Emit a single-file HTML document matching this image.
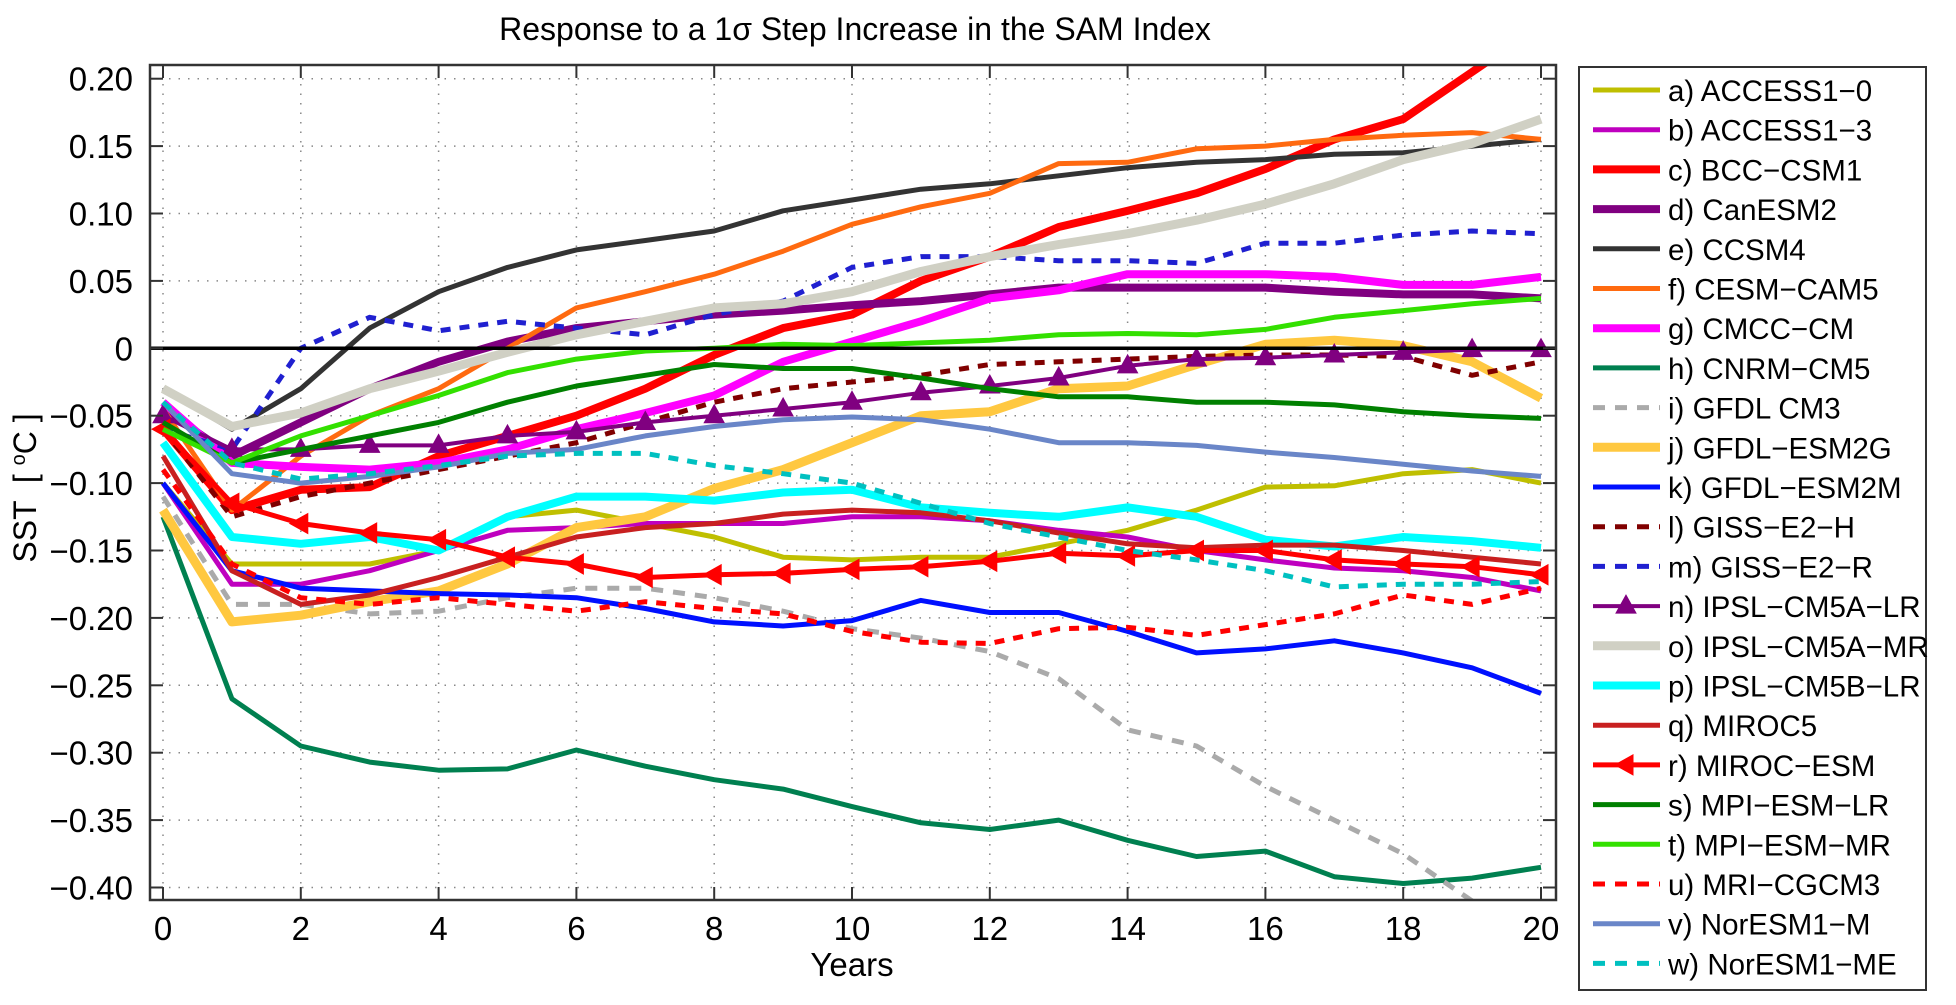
<!DOCTYPE html>
<html><head><meta charset="utf-8"><style>
html,body{margin:0;padding:0;background:#fff;}
svg text{font-family:"Liberation Sans",Arial,sans-serif;fill:#000;}
</style></head><body>
<svg id="s" width="1956" height="1000" xmlns="http://www.w3.org/2000/svg">
<defs><clipPath id="cp"><rect x="150" y="65" width="1406" height="835"/></clipPath></defs>
<rect width="1956" height="1000" fill="#fff"/>
<g id="grid"></g>
<g id="lines" clip-path="url(#cp)"></g>
<g id="axes"></g>
<g id="leg"></g>
<text x="855" y="40" font-size="32" text-anchor="middle">Response to a 1σ Step Increase in the SAM Index</text>
<text x="852" y="976" font-size="33" text-anchor="middle">Years</text>
<text transform="translate(36,488) rotate(-90)" font-size="32" text-anchor="middle" xml:space="preserve">SST  [ <tspan font-size="20" dy="-11">o</tspan><tspan dy="11">C ]</tspan></text>
</svg>
<script>
const NS="http://www.w3.org/2000/svg";
const L=150,R=1556,T=65,B=900;
const X=v=>163+v*68.9, Y=v=>348.3+(-v)*1348;
function el(p,t,a,txt){const e=document.createElementNS(NS,t);for(const k in a)e.setAttribute(k,a[k]);if(txt!==undefined)e.textContent=txt;p.appendChild(e);return e;}
const g=document.getElementById('grid'),ax=document.getElementById('axes'),ln=document.getElementById('lines'),lg=document.getElementById('leg');
for(let i=0;i<=20;i+=2){const x=X(i);el(g,'line',{x1:x,x2:x,y1:T,y2:B,stroke:'#888','stroke-width':1.5,'stroke-dasharray':'1.5 8'});
el(ax,'line',{x1:x,x2:x,y1:B,y2:B-13,stroke:'#333','stroke-width':2});el(ax,'line',{x1:x,x2:x,y1:T,y2:T+13,stroke:'#333','stroke-width':2});
el(ax,'text',{x:x,y:940,'font-size':33,'text-anchor':'middle'},String(i));}
for(let k=-8;k<=4;k++){const v=k*0.05,y=Y(v);el(g,'line',{x1:L,x2:R,y1:y,y2:y,stroke:'#888','stroke-width':1.5,'stroke-dasharray':'1.5 8'});
el(ax,'line',{x1:L,x2:L+13,y1:y,y2:y,stroke:'#333','stroke-width':2});el(ax,'line',{x1:R,x2:R-13,y1:y,y2:y,stroke:'#333','stroke-width':2});
let s=k==0?'0':(v<0?'\u2212':'')+Math.abs(v).toFixed(2);el(ax,'text',{x:133,y:y+12,'font-size':33,'text-anchor':'end'},s);}
el(ax,'rect',{x:L,y:T,width:R-L,height:B-T,fill:'none',stroke:'#333','stroke-width':2.5});
const S=[
['a) ACCESS1\u22120','#bfbf00',5,'',0,[-0.10,-0.16,-0.16,-0.16,-0.15,-0.125,-0.12,-0.13,-0.14,-0.155,-0.157,-0.155,-0.155,-0.145,-0.135,-0.12,-0.103,-0.102,-0.093,-0.09,-0.10]],
['b) ACCESS1\u22123','#bf00bf',5,'',0,[-0.10,-0.175,-0.175,-0.165,-0.15,-0.135,-0.133,-0.13,-0.13,-0.13,-0.125,-0.125,-0.128,-0.135,-0.14,-0.15,-0.157,-0.163,-0.165,-0.17,-0.18]],
['c) BCC\u2212CSM1','#ff0000',8,'',0,[-0.06,-0.12,-0.105,-0.103,-0.08,-0.065,-0.05,-0.03,-0.005,0.015,0.025,0.05,0.068,0.09,0.102,0.115,0.133,0.155,0.17,0.205,0.24]],
['d) CanESM2','#800080',8,'',0,[-0.045,-0.08,-0.055,-0.03,-0.01,0.005,0.015,0.02,0.025,0.028,0.032,0.035,0.04,0.045,0.045,0.045,0.045,0.042,0.04,0.04,0.037]],
['e) CCSM4','#333333',5,'',0,[-0.03,-0.06,-0.03,0.015,0.042,0.06,0.073,0.08,0.087,0.102,0.11,0.118,0.122,0.128,0.134,0.138,0.14,0.144,0.145,0.15,0.155]],
['f) CESM\u2212CAM5','#ff6a10',5,'',0,[-0.045,-0.12,-0.08,-0.05,-0.03,0.0,0.03,0.042,0.055,0.072,0.092,0.105,0.115,0.137,0.138,0.148,0.15,0.155,0.158,0.16,0.155]],
['g) CMCC\u2212CM','#ff00ff',8,'',0,[-0.04,-0.085,-0.088,-0.09,-0.085,-0.075,-0.06,-0.048,-0.035,-0.01,0.005,0.02,0.037,0.043,0.055,0.055,0.055,0.053,0.047,0.047,0.053]],
['h) CNRM\u2212CM5','#008050',5,'',0,[-0.125,-0.26,-0.295,-0.307,-0.313,-0.312,-0.298,-0.31,-0.32,-0.327,-0.34,-0.352,-0.357,-0.35,-0.365,-0.377,-0.373,-0.392,-0.397,-0.393,-0.385]],
['i) GFDL CM3','#aaaaaa',5,'12 10',0,[-0.11,-0.19,-0.19,-0.197,-0.195,-0.185,-0.178,-0.178,-0.185,-0.195,-0.208,-0.215,-0.225,-0.245,-0.283,-0.295,-0.325,-0.35,-0.375,-0.41,-0.44]],
['j) GFDL\u2212ESM2G','#ffc840',9,'',0,[-0.12,-0.203,-0.198,-0.188,-0.18,-0.16,-0.133,-0.125,-0.104,-0.09,-0.07,-0.05,-0.047,-0.03,-0.028,-0.012,0.003,0.006,0.002,-0.01,-0.037]],
['k) GFDL\u2212ESM2M','#0010ff',5,'',0,[-0.10,-0.165,-0.178,-0.18,-0.182,-0.183,-0.185,-0.193,-0.203,-0.206,-0.202,-0.187,-0.196,-0.196,-0.21,-0.226,-0.223,-0.217,-0.226,-0.237,-0.256]],
['l) GISS\u2212E2\u2212H','#800000',5,'10 9',0,[-0.06,-0.125,-0.11,-0.1,-0.09,-0.08,-0.07,-0.055,-0.04,-0.03,-0.025,-0.02,-0.012,-0.01,-0.008,-0.006,-0.005,-0.005,-0.006,-0.02,-0.01]],
['m) GISS\u2212E2\u2212R','#2020d0',5,'10 9',0,[-0.06,-0.075,0.0,0.023,0.013,0.02,0.015,0.01,0.025,0.035,0.06,0.068,0.068,0.065,0.065,0.063,0.078,0.078,0.084,0.087,0.085]],
['n) IPSL\u2212CM5A\u2212LR','#800080',4,'',1,[-0.05,-0.075,-0.075,-0.072,-0.072,-0.065,-0.062,-0.055,-0.05,-0.045,-0.04,-0.033,-0.028,-0.022,-0.013,-0.008,-0.007,-0.005,-0.003,-0.001,-0.001]],
['o) IPSL\u2212CM5A\u2212MR','#d0d0c4',9,'',0,[-0.03,-0.058,-0.048,-0.03,-0.017,-0.003,0.01,0.02,0.03,0.033,0.042,0.057,0.068,0.077,0.085,0.095,0.107,0.122,0.14,0.152,0.17]],
['p) IPSL\u2212CM5B\u2212LR','#00ffff',8,'',0,[-0.07,-0.14,-0.145,-0.14,-0.15,-0.125,-0.11,-0.11,-0.113,-0.107,-0.105,-0.118,-0.122,-0.125,-0.118,-0.125,-0.142,-0.147,-0.14,-0.143,-0.148]],
['q) MIROC5','#c82020',5,'',0,[-0.08,-0.165,-0.19,-0.183,-0.17,-0.155,-0.14,-0.133,-0.13,-0.123,-0.12,-0.122,-0.128,-0.137,-0.145,-0.148,-0.146,-0.146,-0.15,-0.155,-0.16]],
['r) MIROC\u2212ESM','#ff0000',5,'',2,[-0.06,-0.115,-0.13,-0.137,-0.142,-0.155,-0.16,-0.17,-0.168,-0.167,-0.164,-0.162,-0.158,-0.152,-0.154,-0.15,-0.15,-0.157,-0.16,-0.162,-0.168]],
['s) MPI\u2212ESM\u2212LR','#008000',5,'',0,[-0.055,-0.085,-0.075,-0.065,-0.055,-0.04,-0.028,-0.02,-0.012,-0.015,-0.015,-0.022,-0.03,-0.036,-0.036,-0.04,-0.04,-0.042,-0.047,-0.05,-0.052]],
['t) MPI\u2212ESM\u2212MR','#33e000',5,'',0,[-0.06,-0.085,-0.065,-0.05,-0.035,-0.018,-0.008,-0.002,0.0,0.003,0.002,0.004,0.006,0.01,0.011,0.01,0.014,0.023,0.028,0.033,0.037]],
['u) MRI\u2212CGCM3','#ff0000',5,'10 9',0,[-0.09,-0.16,-0.185,-0.19,-0.185,-0.19,-0.195,-0.188,-0.193,-0.197,-0.21,-0.218,-0.219,-0.208,-0.207,-0.213,-0.205,-0.197,-0.183,-0.19,-0.178]],
['v) NorESM1\u2212M','#6a86c8',5,'',0,[-0.04,-0.093,-0.1,-0.095,-0.088,-0.078,-0.075,-0.065,-0.058,-0.053,-0.051,-0.053,-0.06,-0.07,-0.07,-0.072,-0.077,-0.081,-0.086,-0.091,-0.095]],
['w) NorESM1\u2212ME','#00c0c0',5,'10 9',0,[-0.04,-0.085,-0.097,-0.093,-0.087,-0.08,-0.078,-0.078,-0.087,-0.093,-0.1,-0.115,-0.13,-0.14,-0.15,-0.157,-0.165,-0.177,-0.175,-0.175,-0.173]]
];
function tri(p,x,y,c,m){let pts=m==1?[[x,y-11],[x-10,y+7],[x+10,y+7]]:[[x-11,y],[x+7,y-10],[x+7,y+10]];el(p,'polygon',{points:pts.map(q=>q.join(',')).join(' '),fill:c,stroke:c,'stroke-width':1});}
S.forEach(s=>{const pts=s[5].map((v,i)=>X(i).toFixed(1)+','+Y(v).toFixed(1)).join(' ');
const a={points:pts,fill:'none',stroke:s[1],'stroke-width':s[2],'stroke-linejoin':'round'};if(s[3])a['stroke-dasharray']=s[3];el(ln,'polyline',a);
if(s[4])s[5].forEach((v,i)=>tri(ln,X(i),Y(v),s[1],s[4]));});
el(ln,'line',{x1:L,x2:R,y1:Y(0),y2:Y(0),stroke:'#000','stroke-width':3.5});
el(lg,'rect',{x:1579,y:67,width:347,height:923,fill:'#fff',stroke:'#333','stroke-width':2});
S.forEach((s,i)=>{const y=90+i*39.7;const a={x1:1593,x2:1660,y1:y,y2:y,stroke:s[1],'stroke-width':s[2]};if(s[3])a['stroke-dasharray']='12 10';el(lg,'line',a);
if(s[4])tri(lg,1626,y,s[1],s[4]);el(lg,'text',{x:1668,y:y+11,'font-size':29.5},s[0]);});
</script>
</body></html>
